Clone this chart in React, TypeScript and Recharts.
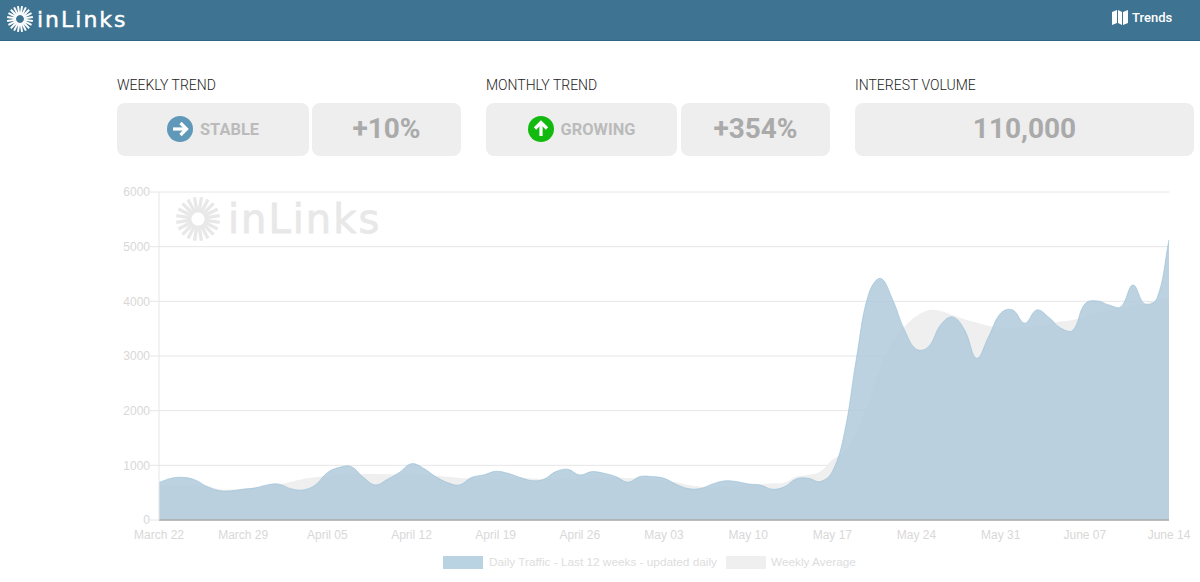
import React from "react";
import { AreaChart, Area, XAxis, YAxis, CartesianGrid, Legend, ReferenceLine } from "recharts";

const dailyTraffic = [685,763,780,733,612,540,533,563,588,642,655,570,551,642,866,963,975,780,642,745,872,1030,945,794,685,642,780,824,890,855,780,720,745,885,927,824,885,855,794,690,794,794,763,655,575,575,655,715,703,660,640,563,606,751,763,703,885,1586,2950,4120,4420,4040,3477,3123,3170,3568,3715,3477,2958,3355,3782,3843,3600,3843,3709,3510,3470,3953,4008,3935,3900,4300,3950,4056,5124];
const weeklyAverage = [640,640,640,640,620,560,560,570,590,620,650,700,750,780,810,830,840,840,840,835,835,835,830,810,790,770,760,750,750,755,775,760,750,750,750,760,770,780,775,770,760,740,720,690,640,610,600,610,620,640,650,670,680,794,824,885,1100,1250,1600,2150,2806,3263,3538,3733,3837,3825,3750,3672,3611,3550,3526,3526,3538,3555,3587,3630,3660,3720,3782,3825,3873,3916,3965,4014,4056];
const tickDays = [0,7,14,21,28,35,42,49,56,63,70,77,84];
const tickLabels = ["March 22","March 29","April 05","April 12","April 19","April 26","May 03","May 10","May 17","May 24","May 31","June 07","June 14"];
const yTicks = [0,1000,2000,3000,4000,5000,6000];
const seriesNames = ["Daily Traffic - Last 12 weeks - updated daily","Weekly Average"];
const rows = dailyTraffic.map((v,i)=>({day:i,daily:v,avg:weeklyAverage[i]}));

const BLUE = "rgba(176,202,219,0.85)";
const GRAY = "#efefef";
const AXIS_TEXT = "#d8d8d8";
const SANS = "'Liberation Sans', Arial, sans-serif";
const RB = "Roboto, sans-serif";

// Bezier spline with the shape of the original chart's tension
const splineCurve = (ctx:any)=>{
  let pts:number[][]=[]; let inArea=false; let idx=0; const t=0.4;
  return {
    areaStart(){inArea=true;idx=0;},
    areaEnd(){inArea=false;},
    lineStart(){pts=[];},
    point(x:number,y:number){pts.push([+x,+y]);},
    lineEnd(){
      if(!pts.length) return;
      if(inArea&&idx>0) ctx.lineTo(pts[0][0],pts[0][1]); else ctx.moveTo(pts[0][0],pts[0][1]);
      const cps=pts.map((p,i)=>{
        const a=pts[i-1]||p,b=pts[i+1]||p;
        const d1=Math.hypot(p[0]-a[0],p[1]-a[1]),d2=Math.hypot(b[0]-p[0],b[1]-p[1]);
        const s=d1+d2||1;
        return {px:p[0]-t*d1/s*(b[0]-a[0]),py:p[1]-t*d1/s*(b[1]-a[1]),nx:p[0]+t*d2/s*(b[0]-a[0]),ny:p[1]+t*d2/s*(b[1]-a[1])};
      });
      for(let i=1;i<pts.length;i++) ctx.bezierCurveTo(cps[i-1].nx,cps[i-1].ny,cps[i].px,cps[i].py,pts[i][0],pts[i][1]);
      if(inArea&&idx>0) ctx.closePath();
      idx++;
    },
  };
};

function Logo({x,y,r,size,spacing,color,textX}:{x:number;y:number;r:number;size:number;spacing:number;color:string;textX:number}){
  const rays = Array.from({length:20},(_,i)=>i*18+9);
  return <g>
    {rays.map(a=>{const c=Math.cos(a*Math.PI/180),s=Math.sin(a*Math.PI/180);
      return <line key={a} x1={x+c*r*0.3} y1={y+s*r*0.3} x2={x+c*r} y2={y+s*r} stroke={color} strokeWidth={r*0.15}/>;})}
    <text x={textX} y={y+size*0.36} fontFamily="'DejaVu Sans', sans-serif" fontSize={size} fill={color} stroke={color} strokeWidth={size*0.02} letterSpacing={spacing}>inLinks</text>
  </g>;
}

const Box = ({l,w,children}:{l:number;w:number;children?:React.ReactNode})=>(
  <div style={{position:"absolute",left:l,top:103,width:w,height:53,background:"#eeeeee",borderRadius:8,display:"flex",alignItems:"center",justifyContent:"center",fontFamily:RB,fontWeight:700,color:"#aaaaaa",fontSize:28,paddingBottom:3,boxSizing:"border-box"}}>{children}</div>
);
const Head = ({l,t}:{l:number;t:string})=>(
  <div style={{position:"absolute",left:l,top:77,fontFamily:RB,fontWeight:300,fontSize:14,lineHeight:"17px",color:"#222"}}>{t}</div>
);
const Status = ({label,fill,up}:{label:string;fill:string;up:boolean})=>(
  <div style={{display:"flex",alignItems:"center",gap:7,marginTop:1}}>
    <svg width={26} height={26} viewBox="0 0 26 26"><circle cx={13} cy={13} r={13} fill={fill}/>
      <g transform={up?"rotate(-90 13 13)":undefined} stroke="#fff" strokeWidth={3.2} fill="none"><path d="M6 13H19"/><path d="M13.5 7L19.5 13L13.5 19"/></g></svg>
    <span style={{fontSize:16.4,color:"#bbbbbb",marginTop:2}}>{label}</span>
  </div>
);

const LegendContent = ()=>(
  <div style={{position:"relative",width:1200,height:20,fontFamily:SANS,fontSize:11.8,color:"#dddddd"}}>
    <span style={{position:"absolute",left:443,top:6,width:40,height:13,background:"#b9d3e2"}}/>
    <span style={{position:"absolute",left:489,top:5,lineHeight:"14px",whiteSpace:"nowrap"}}>{seriesNames[0]}</span>
    <span style={{position:"absolute",left:726,top:6,width:40,height:13,background:GRAY}}/>
    <span style={{position:"absolute",left:771,top:5,lineHeight:"14px",whiteSpace:"nowrap"}}>{seriesNames[1]}</span>
  </div>
);

export default function App(){
  return <div style={{position:"absolute",left:0,top:0,width:1200,height:582,overflow:"hidden",background:"#fff"}}>
    <div style={{position:"absolute",left:0,top:0,width:1200,height:40,background:"#3e7391",borderBottom:"1px solid #2f6684"}}/>
    <svg style={{position:"absolute",left:0,top:0}} width={1200} height={250}>
      <Logo x={20} y={19} r={13} size={22} spacing={2} color="#ffffff" textX={37}/>
      <Logo x={198} y={219} r={22} size={40} spacing={2} color="#e8e8e8" textX={228}/>
      <g fill="#fff"><path d="M1112 12l5-2v13l-5 2zM1118 10l4 2v13l-4-2zM1123 12l5-2v13l-5 2z"/></g>
      <text x={1132} y={21.5} fontFamily={RB} fontWeight={500} fontSize={13} fill="#fff">Trends</text>
    </svg>
    <Head l={117} t="WEEKLY TREND"/><Head l={486} t="MONTHLY TREND"/><Head l={855} t="INTEREST VOLUME"/>
    <Box l={117} w={192}><Status label="STABLE" fill="#5f98b8" up={false}/></Box>
    <Box l={312} w={149}>+10%</Box>
    <Box l={486} w={191}><Status label="GROWING" fill="#12b90f" up={true}/></Box>
    <Box l={681} w={149}>+354%</Box>
    <Box l={855} w={339}>110,000</Box>
    <div style={{position:"absolute",left:0,top:0}}>
      <AreaChart width={1200} height={582} data={rows} margin={{top:192,right:31,left:99,bottom:12}}>
        <CartesianGrid vertical={false} stroke="#e6e6e6"/>
        <XAxis dataKey="day" type="number" domain={[0,84]} ticks={tickDays} interval={0} height={30}
          tickFormatter={(d:number)=>tickLabels[tickDays.indexOf(d)]} tickLine={false}
          axisLine={{stroke:"#aaaaaa"}} tick={{fill:AXIS_TEXT,fontSize:12,fontFamily:SANS}} tickMargin={4}/>
        <YAxis width={60} domain={[0,6000]} ticks={yTicks} tickSize={9} tickLine={{stroke:"#e6e6e6"}}
          axisLine={{stroke:"#e6e6e6"}} tick={{fill:AXIS_TEXT,fontSize:12,fontFamily:SANS}} tickMargin={0}/>
        <Legend content={LegendContent} verticalAlign="bottom" height={20} wrapperStyle={{left:0,width:1200}}/>
        <Area dataKey="avg" name={seriesNames[1]} type={splineCurve as any} fill={GRAY} fillOpacity={1} stroke="none" isAnimationActive={false} dot={false} activeDot={false}/>
        <Area dataKey="daily" name={seriesNames[0]} type={splineCurve as any} fill={BLUE} fillOpacity={1} stroke="rgba(150,190,215,0.6)" strokeWidth={1} isAnimationActive={false} dot={false} activeDot={false}/>
        <ReferenceLine y={0} stroke="#aaaaaa"/>
      </AreaChart>
    </div>
  </div>;
}
